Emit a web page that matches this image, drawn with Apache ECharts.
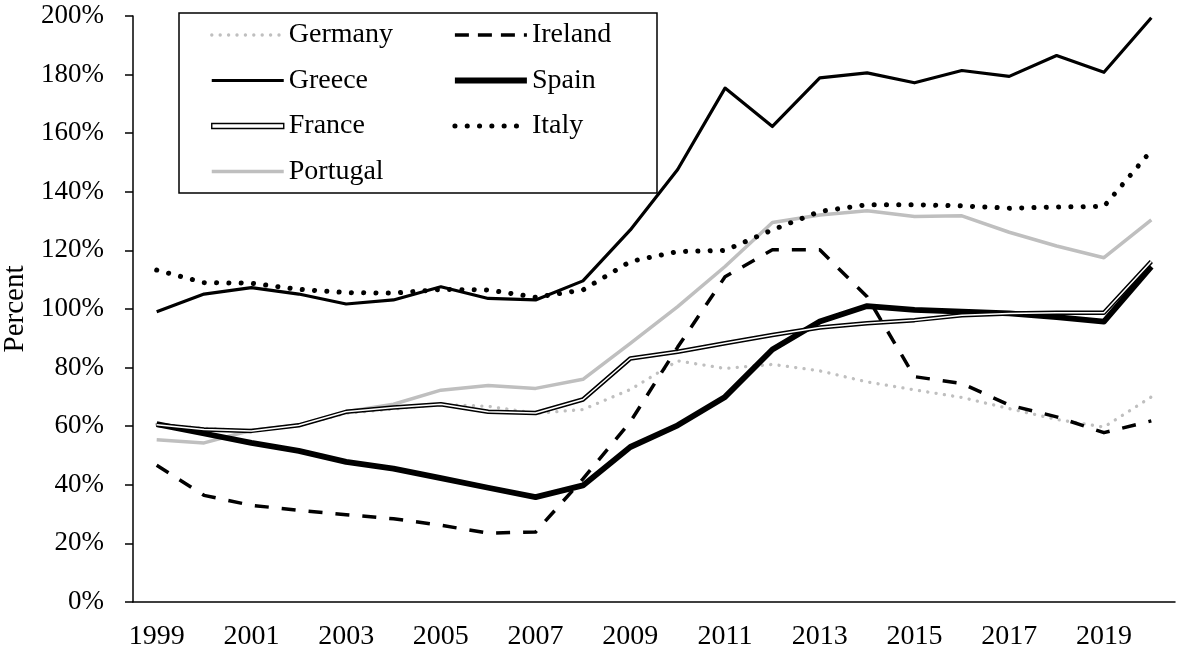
<!DOCTYPE html>
<html>
<head>
<meta charset="utf-8">
<script src="https://cdn.jsdelivr.net/npm/echarts@6/dist/echarts.min.js"></script>
<style>
  html, body { margin: 0; padding: 0; background: #fff; }
  #chart { width: 1181px; height: 653px; }
</style>
</head>
<body>
<div id="chart"></div>
<script>
const years = ['1999','2000','2001','2002','2003','2004','2005','2006','2007','2008','2009','2010','2011','2012','2013','2014','2015','2016','2017','2018','2019','2020'];
const yTicks = { min: 0, max: 200, interval: 20 };

const germany  = [60.6, 59.3, 58.4, 60.3, 64.4, 65.9, 67.4, 66.8, 64.4, 65.7, 72.5, 82.3, 79.7, 81.1, 78.9, 75.1, 72.4, 69.8, 66.0, 62.3, 59.7, 70.0];
const ireland  = [46.7, 36.4, 33.0, 31.3, 29.8, 28.4, 26.2, 23.5, 23.9, 42.0, 61.5, 87.0, 111.0, 120.2, 120.2, 104.2, 76.9, 74.6, 67.2, 63.2, 57.8, 61.8];
const greece   = [99.1, 105.1, 107.3, 105.1, 101.7, 103.1, 107.6, 103.6, 103.1, 109.6, 127.0, 147.6, 175.4, 162.3, 178.9, 180.6, 177.2, 181.4, 179.4, 186.5, 180.8, 199.4];
const spain    = [60.7, 57.5, 54.3, 51.6, 47.8, 45.5, 42.3, 39.0, 35.8, 39.8, 52.9, 60.3, 70.0, 86.2, 95.7, 101.0, 99.7, 99.1, 98.5, 97.2, 95.7, 114.5];
const france   = [60.5, 58.9, 58.4, 60.3, 64.9, 66.4, 67.5, 64.9, 64.5, 69.1, 83.1, 85.4, 88.3, 91.1, 93.7, 95.1, 96.2, 97.9, 98.5, 98.7, 98.7, 116.2];
const italy    = [113.3, 109.0, 108.8, 106.7, 105.6, 105.4, 106.7, 106.5, 104.0, 106.5, 116.2, 119.6, 120.0, 127.0, 133.3, 135.6, 135.6, 135.2, 134.4, 134.8, 135.0, 154.1];
const portugal = [55.4, 54.3, 58.6, 60.3, 64.9, 67.5, 72.3, 73.9, 72.9, 76.0, 88.3, 100.8, 114.5, 129.5, 132.1, 133.5, 131.6, 131.8, 126.2, 121.5, 117.5, 130.4];

const FONT = '"Liberation Serif", "Times New Roman", serif';
const GRAY = '#bfbfbf';

const styles = {
  Germany:  { color: GRAY,  width: 3.3, type: [0.1, 8.3], cap: 'round' },
  Ireland:  { color: '#000', width: 3.5, type: [14, 13], cap: 'butt' },
  Greece:   { color: '#000', width: 3.2, type: 'solid', cap: 'butt' },
  Spain:    { color: '#000', width: 5.8, type: 'solid', cap: 'butt' },
  France:   { color: '#000', width: 4.5, type: 'solid', cap: 'butt' },
  Italy:    { color: '#000', width: 5, type: [0.1, 12.2], cap: 'round' },
  Portugal: { color: GRAY,  width: 3.5, type: 'solid', cap: 'butt' }
};

function mk(name, data, style, z) {
  return {
    name: name, type: 'line', data: data, showSymbol: false, symbol: 'none',
    z: z, silent: true,
    lineStyle: { color: style.color, width: style.width, type: style.type, cap: style.cap, join: 'round' },
    itemStyle: { color: style.color },
    emphasis: { disabled: true }
  };
}

function legendItem(name, dash) {
  const s = styles[name];
  return {
    name: name,
    lineStyle: { color: s.color, width: s.width, type: dash || s.type, cap: s.cap },
    itemStyle: { color: 'rgba(0,0,0,0)', borderWidth: 0, opacity: 0 }
  };
}

const legendCommon = {
  orient: 'vertical', top: 21, padding: 0, itemWidth: 72, itemHeight: 14, itemGap: 17.5,
  selectedMode: false,
  textStyle: { fontFamily: FONT, fontSize: 28, lineHeight: 28, color: '#000' }
};

const option = {
  animation: false,
  backgroundColor: '#fff',
  grid: { left: 133, right: 6, top: 16, bottom: 51, containLabel: false, outerBoundsMode: 'none' },
  xAxis: {
    type: 'category', data: years, boundaryGap: true,
    axisLine: { lineStyle: { color: '#000', width: 1.5 } },
    axisTick: { interval: 0, length: 8, lineStyle: { color: '#000', width: 1.5 } },
    axisLabel: { interval: 1, margin: 21, fontFamily: FONT, fontSize: 28, color: '#000' },
    splitLine: { show: false }
  },
  yAxis: {
    type: 'value', min: yTicks.min, max: yTicks.max, interval: yTicks.interval,
    name: 'Percent', nameLocation: 'middle', nameRotate: 90, nameGap: 100,
    nameTextStyle: { fontFamily: FONT, fontSize: 29, color: '#000' },
    axisLine: { show: true, lineStyle: { color: '#000', width: 1.5 } },
    axisTick: { show: true, length: 8, lineStyle: { color: '#000', width: 1.5 } },
    axisLabel: { margin: 29, fontFamily: FONT, fontSize: 27, color: '#000', formatter: '{value}%' },
    splitLine: { show: false }
  },
  legend: [
    Object.assign({}, legendCommon, {
      left: 210,
      data: [
        legendItem('Germany'),
        legendItem('Greece'),
        { name: 'France', icon: 'path://M0,0H72V5H0Z', itemStyle: { color: '#fff', borderColor: '#000', borderWidth: 1.4 } },
        legendItem('Portugal')
      ]
    }),
    Object.assign({}, legendCommon, {
      left: 452,
      data: [legendItem('Ireland', [14, 9]), legendItem('Spain'), legendItem('Italy')]
    })
  ],
  graphic: [{
    type: 'rect', silent: true, z: 100,
    shape: { x: 179, y: 13, width: 478, height: 180 },
    style: { fill: 'none', stroke: '#000', lineWidth: 1.5 }
  }],
  series: [
    mk('Portugal', portugal, styles.Portugal, 2),
    mk('Germany', germany, styles.Germany, 3),
    mk('Ireland', ireland, styles.Ireland, 4),
    mk('Greece', greece, styles.Greece, 5),
    mk('Spain', spain, styles.Spain, 6),
    mk('France', france, styles.France, 7),
    mk('France inner', france, { color: '#fff', width: 1.5, type: 'solid', cap: 'butt' }, 8),
    mk('Italy', italy, styles.Italy, 9)
  ]
};

const chart = echarts.init(document.getElementById('chart'), null, { renderer: 'canvas' });
chart.setOption(option);
</script>
</body>
</html>
